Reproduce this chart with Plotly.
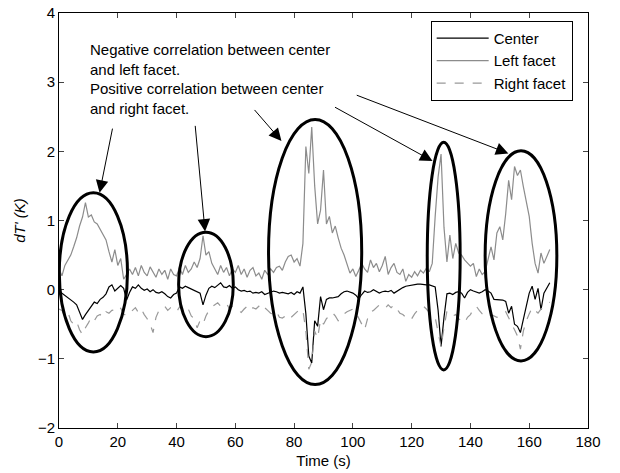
import plotly.graph_objects as go

# time axis (s), 1 s sampling
time_s = list(range(0, 168))

center = [
    -0.02, -0.05, -0.08, -0.11, -0.14, -0.18, -0.22, -0.32, -0.43, -0.36,
    -0.30, -0.24, -0.18, -0.20, -0.14, -0.11, -0.06, 0.04, 0.07, -0.02,
    0.02, 0.06, 0.02, -0.15, -0.04, 0.04, 0.02, 0.07, 0.02, -0.01,
    0.01, -0.03, 0.00, -0.04, -0.05, -0.03, -0.06, -0.10, -0.12, -0.07,
    -0.05, 0.04, 0.02, 0.05, 0.03, 0.01, 0.00, -0.02, -0.05, -0.22,
    -0.08, 0.02, 0.05, 0.03, 0.06, 0.10, 0.04, 0.03, 0.06, 0.02,
    0.04, 0.00, -0.02, -0.01, -0.03, -0.02, -0.05, -0.04, -0.05, -0.03,
    -0.07, -0.05, -0.04, -0.02, -0.03, -0.05, -0.04, -0.05, -0.06, -0.04,
    -0.07, -0.03, -0.05, 0.04, -0.35, -0.96, -1.06, -0.45, -0.53, -0.10,
    -0.29, -0.14, -0.12, -0.12, -0.11, -0.10, -0.06, -0.03, -0.02, -0.03,
    -0.05, -0.08, -0.13, -0.07, -0.02, -0.04, -0.03, 0.00, -0.02, -0.05,
    -0.03, -0.02, -0.03, -0.01, -0.05, -0.02, 0.00, 0.03, 0.05, 0.06,
    0.07, 0.07, 0.08, 0.08, 0.07, 0.07, 0.07, 0.06, 0.04, -0.30,
    -0.82, -0.40, -0.06, -0.05, -0.07, -0.04, -0.03, -0.05, -0.12, -0.04,
    0.00, -0.02, -0.03, -0.05, -0.03, 0.00, -0.02, -0.05, -0.14, -0.14,
    -0.14, -0.15, -0.17, -0.34, -0.24, -0.50, -0.53, -0.62, -0.43, -0.24,
    -0.05, 0.05, -0.14, 0.02, -0.29, -0.05, 0.02, 0.10,
]

left_facet = [
    0.30, 0.20, 0.35, 0.42, 0.50, 0.62, 0.75, 0.92, 1.05, 1.26,
    1.05, 1.08, 0.98, 0.95, 0.88, 0.80, 0.72, 0.55, 0.40, 0.58,
    0.35, 0.45, 0.15, 0.22, 0.30, 0.22, 0.32, 0.20, 0.35, 0.25,
    0.20, 0.33, 0.26, 0.18, 0.30, 0.22, 0.28, 0.15, 0.30, 0.22,
    0.20, 0.32, 0.22, 0.35, 0.25, 0.30, 0.40, 0.32, 0.45, 0.78,
    0.50, 0.55, 0.38, 0.30, 0.22, 0.35, 0.25, 0.32, 0.20, 0.30,
    0.25, 0.35, 0.22, 0.30, 0.18, 0.28, 0.32, 0.20, 0.24, 0.15,
    0.28, 0.22, 0.30, 0.25, 0.32, 0.34, 0.28, 0.40, 0.48, 0.50,
    0.40, 0.45, 0.34, 0.67, 2.07, 1.68, 2.35, 1.50, 0.95, 1.15,
    1.73, 0.95, 1.06, 0.82, 0.92, 0.75, 0.60, 0.50, 0.38, 0.24,
    0.30, 0.19, 0.28, 0.38, 0.30, 0.25, 0.43, 0.32, 0.38, 0.26,
    0.35, 0.48, 0.22, 0.32, 0.38, 0.25, 0.22, 0.30, 0.12, 0.22,
    0.18, 0.26, 0.20, 0.28, 0.24, 0.31, 0.26, 0.38, 1.06, 1.63,
    1.96, 0.90, 0.40, 0.79, 0.45, 0.67, 0.53, 0.50, 0.43, 0.38,
    0.34, 0.38, 0.19, 0.30, 0.22, 0.26, 0.45, 0.62, 0.43, 0.82,
    0.91, 0.72, 1.10, 1.58, 1.30, 1.78, 1.65, 1.73, 1.49, 1.25,
    1.06, 0.67, 0.38, 0.24, 0.53, 0.38, 0.48, 0.58,
]

right_facet = [
    -0.28, -0.30, -0.38, -0.32, -0.45, -0.50, -0.46, -0.58, -0.65, -0.55,
    -0.48, -0.40, -0.45, -0.38, -0.36, -0.40, -0.32, -0.34, -0.30, -0.29,
    -0.32, -0.27, -0.35, -0.38, -0.34, -0.30, -0.26, -0.33, -0.28, -0.36,
    -0.42, -0.50, -0.62, -0.40, -0.30, -0.26, -0.24, -0.30, -0.26, -0.28,
    -0.32, -0.25, -0.30, -0.34, -0.28, -0.38, -0.42, -0.55, -0.45, -0.50,
    -0.38, -0.30, -0.25, -0.22, -0.19, -0.24, -0.22, -0.20, -0.28, -0.24,
    -0.26, -0.30, -0.33, -0.28, -0.24, -0.30, -0.26, -0.28, -0.24, -0.30,
    -0.26, -0.30, -0.34, -0.36, -0.32, -0.40, -0.41, -0.38, -0.35, -0.40,
    -0.36, -0.31, -0.28, -0.30, -0.60, -1.15, -1.05, -0.60, -0.70, -0.43,
    -0.50, -0.42, -0.38, -0.33, -0.38, -0.45, -0.40, -0.35, -0.32, -0.30,
    -0.28, -0.33, -0.42, -0.50, -0.58, -0.42, -0.32, -0.30, -0.26, -0.22,
    -0.25, -0.27, -0.22, -0.26, -0.22, -0.28, -0.34, -0.36, -0.40, -0.38,
    -0.42, -0.35, -0.30, -0.27, -0.24, -0.28, -0.33, -0.34, -0.40, -0.62,
    -0.82, -0.55, -0.31, -0.35, -0.38, -0.36, -0.42, -0.45, -0.48, -0.40,
    -0.36, -0.28, -0.24, -0.30, -0.35, -0.38, -0.40, -0.36, -0.38, -0.40,
    -0.38, -0.36, -0.32, -0.40, -0.50, -0.58, -0.67, -0.86, -0.60, -0.45,
    -0.35, -0.26, -0.30, -0.34, -0.28, -0.25, -0.22, -0.18,
]

# highlighted events: (t_start, t_end, dT_low, dT_high)
ellipses = [
    (0.1, 23.3, -0.90, 1.40),
    (40.7, 59.3, -0.68, 0.83),
    (71.3, 103.0, -1.37, 2.46),
    (125.3, 136.5, -1.16, 2.13),
    (145.0, 169.4, -1.03, 2.01),
]

# arrows: (tail_t, tail_dT, head_t, head_dT)
arrows = [
    (18.3, 2.35, 13.8, 1.40),
    (46.3, 2.39, 49.7, 0.84),
    (66.1, 2.62, 75.7, 2.15),
    (93.4, 2.65, 127.1, 1.86),
    (100.8, 2.82, 152.9, 1.97),
]

note_text = ("Negative correlation between center<br>and left facet.<br>"
             "Positive correlation between center<br>and right facet.")

FONT = "Liberation Sans, Arial, sans-serif"

fig = go.Figure()
fig.add_trace(go.Scatter(x=time_s, y=center, mode="lines", name="Center",
                         line=dict(color="black", width=1.2)))
fig.add_trace(go.Scatter(x=time_s, y=left_facet, mode="lines", name="Left facet",
                         line=dict(color="#8c8c8c", width=1.2)))
fig.add_trace(go.Scatter(x=time_s, y=right_facet, mode="lines", name="Right facet",
                         line=dict(color="#999999", width=1.2, dash="dash")))

shapes = []
for (x0, x1, y0, y1) in ellipses:
    shapes.append(dict(type="circle", xref="x", yref="y", x0=x0, x1=x1, y0=y0, y1=y1,
                       line=dict(color="black", width=3)))

annotations = []
for (tx, ty, hx, hy) in arrows:
    annotations.append(dict(x=hx, y=hy, ax=tx, ay=ty, xref="x", yref="y",
                            axref="x", ayref="y", text="", showarrow=True,
                            arrowhead=2, arrowsize=2.5, arrowwidth=1, arrowcolor="black"))
annotations.append(dict(x=9.9, y=3.04, xref="x", yref="y", text=note_text,
                        showarrow=False, xanchor="left", yanchor="middle", align="left",
                        font=dict(size=15, color="black", family=FONT)))

fig.update_layout(
    width=620, height=473,
    margin=dict(l=59, r=32, t=13, b=45),
    paper_bgcolor="white", plot_bgcolor="white",
    font=dict(family=FONT, size=15, color="black"),
    shapes=shapes, annotations=annotations,
    showlegend=True,
    legend=dict(x=0.7026, y=0.981, xanchor="left", yanchor="top",
                bordercolor="black", borderwidth=1, bgcolor="white",
                font=dict(size=15), itemwidth=52),
    xaxis=dict(range=[0, 180], dtick=20, tick0=0, ticks="inside", ticklen=5,
               showline=True, linecolor="black", linewidth=1, mirror="ticks",
               showgrid=False, zeroline=False, automargin=False,
               tickfont=dict(size=15),
               title=dict(text="Time (s)", standoff=6, font=dict(size=15))),
    yaxis=dict(range=[-2, 4], dtick=1, tick0=0, ticks="inside", ticklen=5,
               showline=True, linecolor="black", linewidth=1, mirror="ticks",
               showgrid=False, zeroline=False, automargin=False,
               tickfont=dict(size=15),
               title=dict(text="<i>dT' (K)</i>", standoff=8, font=dict(size=15))),
)

fig.write_html("out.html")
